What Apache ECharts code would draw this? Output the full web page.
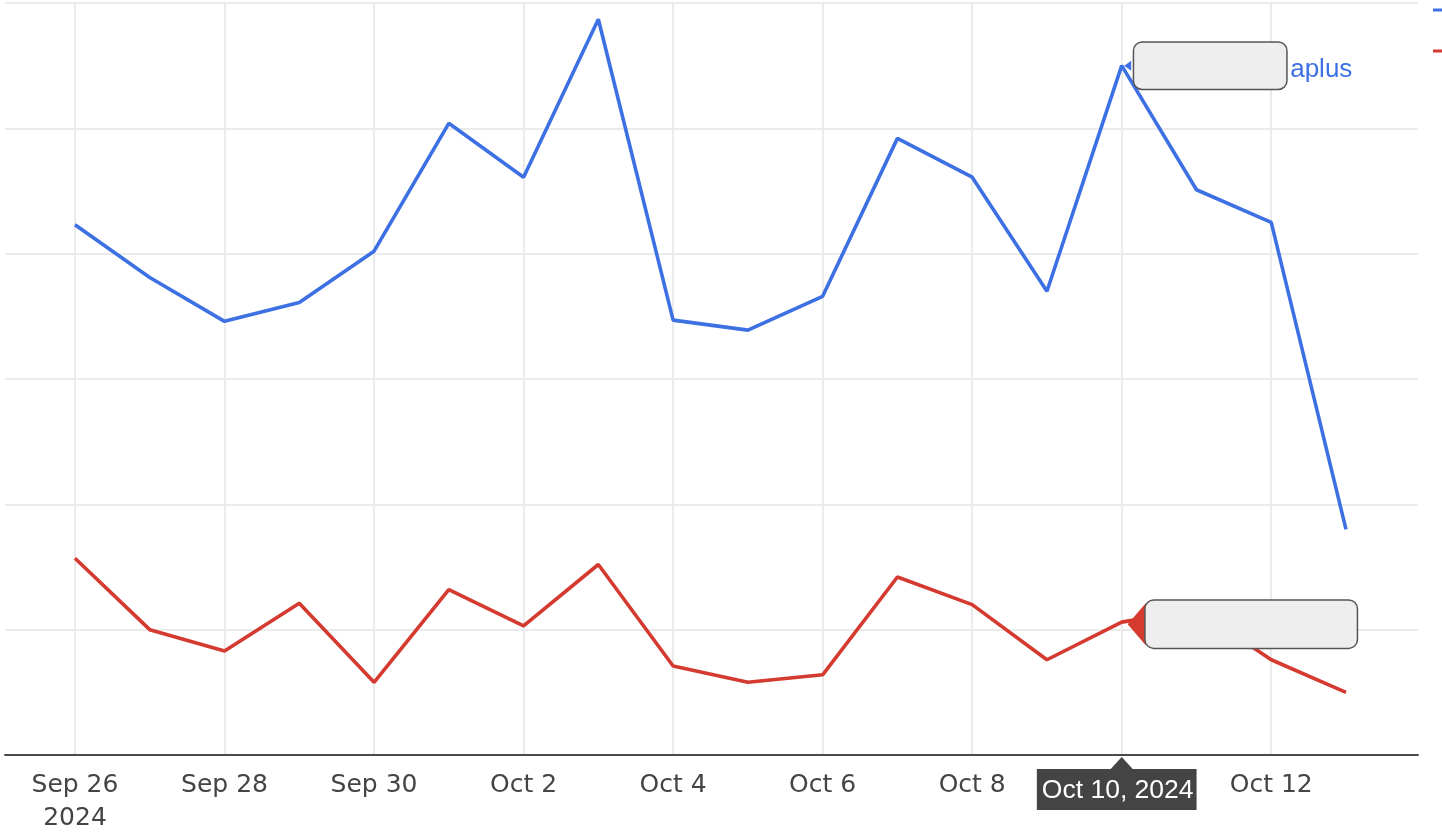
<!DOCTYPE html>
<html><head><meta charset="utf-8">
<script src="https://cdn.jsdelivr.net/npm/echarts@6/dist/echarts.min.js"></script>
<style>html,body{margin:0;padding:0;background:#fff;}#c{width:1442px;height:840px;}</style>
</head><body><div id="c"></div>
<script>
const dates = ['2024-09-26','2024-09-27','2024-09-28','2024-09-29','2024-09-30','2024-10-01','2024-10-02','2024-10-03','2024-10-04','2024-10-05','2024-10-06','2024-10-07','2024-10-08','2024-10-09','2024-10-10','2024-10-11','2024-10-12','2024-10-13'];
const aplus = [42.3,38.1,34.6,36.1,40.2,50.4,46.1,58.7,34.7,33.9,36.6,49.2,46.1,37.0,55.0,45.1,42.5,18.0];
const other = [15.7,10.0,8.3,12.1,5.8,13.2,10.3,15.2,7.1,5.8,6.4,14.2,12.0,7.6,10.6,11.6,7.6,5.0];
const tickIndex = [0,2,4,6,8,10,12,14,16];
const tickLabels = ['Sep 26\n2024','Sep 28','Sep 30','Oct 2','Oct 4','Oct 6','Oct 8','Oct 10','Oct 12'];
const hoverIndex = 14;
const hoverLabel = 'Oct 10, 2024';

const BLUE = '#3d70e3', RED = '#d43a2f', GRID = '#ebebeb';
const chart = echarts.init(document.getElementById('c'));
const toPairs = arr => arr.map((v,i)=>[i,v]);
chart.setOption({
  animation:false,
  legend:{orient:'vertical',left:1428,top:-5,itemWidth:16,itemHeight:3,itemGap:21,icon:'rect',
    textStyle:{fontSize:20,fontFamily:'Liberation Sans'},data:['aplus','other']},
  grid:[
    {left:5,right:24,top:3,bottom:85,containLabel:false},
    {left:75,right:171,top:3,bottom:85,containLabel:false}
  ],
  xAxis:[
    {type:'value',gridIndex:0,min:-0.936,max:17.963,
      axisLine:{show:true,onZero:false,lineStyle:{color:'#4a4a4a',width:2}},
      axisTick:{show:false},splitLine:{show:false},
      axisLabel:{customValues:tickIndex,margin:14,fontSize:25,lineHeight:33,color:'#444',fontFamily:'DejaVu Sans',
        formatter:v=>{const k=tickIndex.indexOf(Math.round(v));return k>=0?tickLabels[k]:'';}}},
    {type:'value',gridIndex:1,min:tickIndex[0],max:tickIndex[tickIndex.length-1],interval:2,
      axisLine:{show:false},axisTick:{show:false},axisLabel:{show:false},
      splitLine:{show:true,lineStyle:{color:GRID,width:2}}}
  ],
  yAxis:[
    {type:'value',gridIndex:0,min:0,max:60,interval:10,axisLabel:{show:false},axisLine:{show:false},axisTick:{show:false},
      splitLine:{lineStyle:{color:GRID,width:2}}},
    {type:'value',gridIndex:1,min:0,max:60,interval:10,show:false,splitLine:{show:false}}
  ],
  series:[
    {type:'line',name:'aplus',data:toPairs(aplus),showSymbol:false,symbol:'none',z:3,
      lineStyle:{color:BLUE,width:3.6},itemStyle:{color:BLUE},
      markPoint:{silent:true,data:[
        {coord:[hoverIndex,aplus[hoverIndex]],symbol:'triangle',symbolRotate:90,symbolSize:[10,7],symbolOffset:[6,0],
          itemStyle:{color:BLUE},
          label:{show:true,position:'right',distance:3,formatter:'{b|}{t|aplus}',
            rich:{b:{width:152,height:46,backgroundColor:'#eeeeee',borderColor:'#555',borderWidth:1.5,borderRadius:8},
              t:{color:BLUE,fontSize:26,fontFamily:'Liberation Sans',padding:[9,0,0,4]}}}}
      ]}},
    {type:'line',name:'other',data:toPairs(other),showSymbol:false,symbol:'none',z:3,
      lineStyle:{color:RED,width:3.6},itemStyle:{color:RED},
      markPoint:{silent:true,data:[
        {coord:[hoverIndex,other[hoverIndex]],symbol:'triangle',symbolRotate:90,symbolSize:[42,18],symbolOffset:[15,2],
          itemStyle:{color:RED},
          label:{show:true,position:'right',distance:0,formatter:'{b|}',
            rich:{b:{width:211,height:47,backgroundColor:'#eeeeee',borderColor:'#555',borderWidth:1.5,borderRadius:8}}}},
        {coord:[hoverIndex,0],symbol:'triangle',symbolSize:[22,12],symbolOffset:[0,8],itemStyle:{color:'#444'},
          label:{show:true,position:'bottom',distance:0,offset:[-5,0],formatter:hoverLabel,color:'#fff',fontSize:26.5,
            fontFamily:'Liberation Sans',backgroundColor:'#444',padding:[5,3,3,5],lineHeight:33}}
      ]}}
  ]
});
</script></body></html>
